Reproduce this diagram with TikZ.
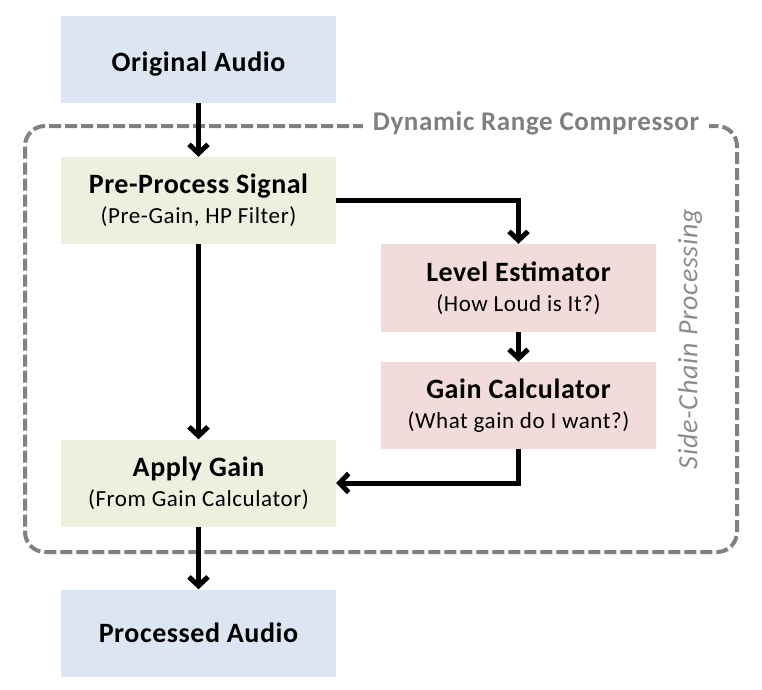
\documentclass[tikz,border=0pt]{standalone}
\usepackage{fontspec}
\setmainfont{Carlito}
\newfontfamily\titlefont{Carlito}[LetterSpace=2]
\newfontfamily\subfont{Carlito}[LetterSpace=2.5]
\newfontfamily\framefont{Carlito}[LetterSpace=2.4]
\newfontfamily\sidefont{Carlito}[LetterSpace=2.7]
\usetikzlibrary{arrows.meta}
\definecolor{boxblue}{HTML}{DCE6F2}
\definecolor{boxgreen}{HTML}{EBF1DE}
\definecolor{boxpink}{HTML}{F2DCDB}
\definecolor{dashgray}{HTML}{808080}
\definecolor{labelgray}{HTML}{7F7F7F}
\definecolor{sidegray}{HTML}{8C8C8C}
\tikzset{
  blockbox/.style={rectangle, draw=none, minimum width=275pt, minimum height=87pt, inner sep=0pt, align=center, font=\titlefont\fontsize{28pt}{30pt}\selectfont},
  bluebox/.style={blockbox, fill=boxblue},
  greenbox/.style={blockbox, fill=boxgreen},
  pinkbox/.style={blockbox, fill=boxpink},
  flow/.style={draw=black, line width=5pt, -{Straight Barb[length=9pt,width=19pt,line width=5pt]}},
  groupframe/.style={draw=dashgray, line width=4pt, dash pattern=on 12pt off 4pt, rounded corners=20pt},
}
\newcommand{\subline}[1]{\\{\subfont\fontsize{23pt}{30pt}\selectfont #1}}
\begin{document}
\begin{tikzpicture}[x=1pt,y=1pt]
\useasboundingbox (0,0) rectangle (762,-689);
% group frame
\node[draw=none, minimum width=712pt, minimum height=426pt, inner sep=0pt, groupframe] (frame) at (381,-339) {};
\node[fill=white, inner xsep=10pt, inner ysep=2pt, text=labelgray, font=\framefont\fontsize{27pt}{28pt}\selectfont\bfseries] (framelabel) at (536,-123) {Dynamic Range Compressor};
\node[rotate=90, text=sidegray, font=\sidefont\fontsize{28pt}{28pt}\selectfont\itshape] (sidelabel) at (690,-339) {Side-Chain Processing};
% blocks
\node[bluebox] (orig) at (198.5,-59.5) {\raisebox{-5pt}[\height][\depth]{\bfseries Original Audio}};
\node[greenbox] (pre) at (198.5,-200.5) {\bfseries Pre-Process Signal\subline{(Pre-Gain, HP Filter)}};
\node[pinkbox, minimum height=88pt] (level) at (518.5,-288) {\bfseries Level Estimator\subline{(How Loud is It?)}};
\node[pinkbox] (gcalc) at (518.5,-405.5) {\bfseries Gain Calculator\subline{(What gain do I want?)}};
\node[greenbox] (apply) at (198.5,-483) {\bfseries Apply Gain\subline{(From Gain Calculator)}};
\node[bluebox] (proc) at (198.5,-633) {\bfseries Processed Audio};
% connectors
\draw[flow] (orig.south) -- (pre.north);
\draw[flow] (pre.south) -- (apply.north);
\draw[flow] (apply.south) -- (proc.north);
\draw[flow] (pre.east) -| (level.north);
\draw[flow] (level.south) -- (gcalc.north);
\draw[flow] (gcalc.south) |- (apply.east);
\end{tikzpicture}
\end{document}
